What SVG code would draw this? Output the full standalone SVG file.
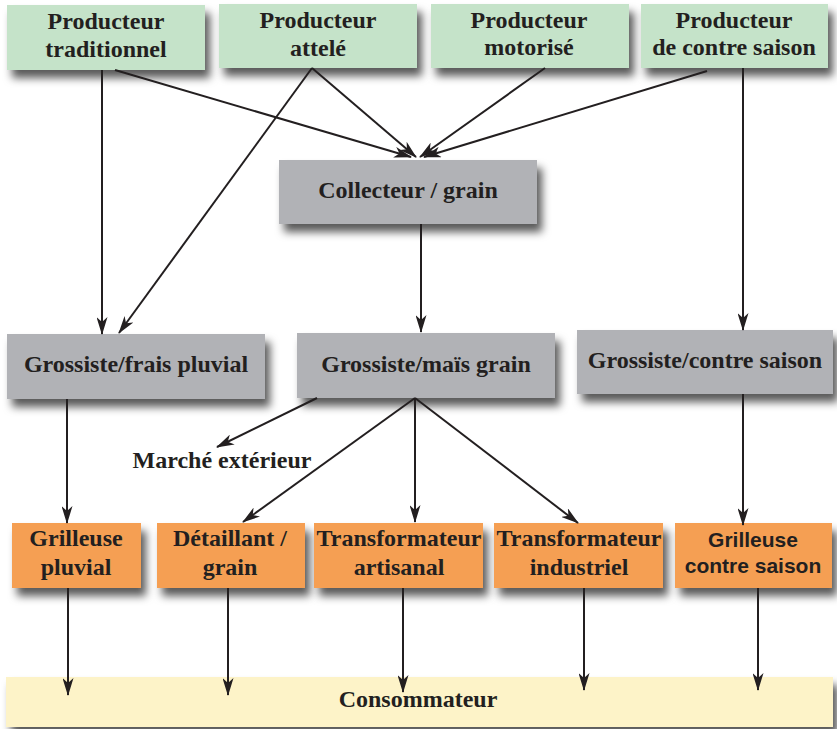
<svg xmlns="http://www.w3.org/2000/svg" width="837" height="729" viewBox="0 0 837 729">
<defs>
<filter id="sh" x="-10%" y="-20%" width="125%" height="160%">
<feDropShadow dx="5" dy="8" stdDeviation="4.5" flood-color="#000" flood-opacity="0.65"/>
</filter>
<marker id="ah" viewBox="0 0 18 11" markerWidth="18" markerHeight="11" refX="17" refY="5.5" orient="auto" markerUnits="userSpaceOnUse">
<path d="M0,0 L18,5.5 L0,11 L5,5.5 Z" fill="#231f20"/>
</marker>
<style>
.g{fill:#c5e3c9;filter:url(#sh)}
.gr{fill:#b1b2b6;filter:url(#sh)}
.o{fill:#f59f52;filter:url(#sh)}
.y{fill:#fdf3c8;filter:url(#sh)}
text{font-family:"Liberation Serif","Times New Roman",serif;font-weight:bold;font-size:24px;fill:#231f20;text-anchor:middle}
text.s{font-family:"Liberation Sans",Arial,sans-serif;font-size:21px}
#edges line{stroke:#231f20;stroke-width:2;marker-end:url(#ah)}
</style>
</defs>
<rect width="837" height="729" fill="#fff"/>
<g id="consommateur"><rect class="y" x="6" y="677" width="827" height="50"/><text x="418" y="707">Consommateur</text></g>
<g id="p_trad"><rect class="g" x="7" y="5" width="198" height="65"/><text x="106" y="29">Producteur</text><text x="106" y="57">traditionnel</text></g>
<g id="p_attele"><rect class="g" x="219" y="4" width="198" height="64"/><text x="318" y="28">Producteur</text><text x="318" y="56">attelé</text></g>
<g id="p_moto"><rect class="g" x="431" y="4" width="198" height="64"/><text x="529" y="28">Producteur</text><text x="529" y="55">motorisé</text></g>
<g id="p_contre"><rect class="g" x="641" y="4" width="187" height="64"/><text x="734" y="28">Producteur</text><text x="734" y="55">de contre saison</text></g>
<g id="collecteur"><rect class="gr" x="279" y="160" width="258" height="64"/><text x="408" y="198">Collecteur / grain</text></g>
<g id="g_frais"><rect class="gr" x="7" y="334" width="258" height="65"/><text x="136" y="372">Grossiste/frais pluvial</text></g>
<g id="g_mais"><rect class="gr" x="297" y="333" width="258" height="65"/><text x="426" y="372">Grossiste/maïs grain</text></g>
<g id="g_contre"><rect class="gr" x="577" y="330" width="256" height="64"/><text x="705" y="368">Grossiste/contre saison</text></g>
<g id="marche"><text x="222" y="468">Marché extérieur</text></g>
<g id="gr_pluvial"><rect class="o" x="12" y="523" width="129" height="65"/><text x="76" y="546">Grilleuse</text><text x="76" y="575">pluvial</text></g>
<g id="detaillant"><rect class="o" x="157" y="523" width="148" height="65"/><text x="230" y="546">Détaillant /</text><text x="230" y="575">grain</text></g>
<g id="tr_artisanal"><rect class="o" x="314" y="523" width="169" height="65"/><text x="399" y="546">Transformateur</text><text x="399" y="575">artisanal</text></g>
<g id="tr_industriel"><rect class="o" x="494" y="523" width="169" height="65"/><text x="579" y="546">Transformateur</text><text x="579" y="575">industriel</text></g>
<g id="gr_contre"><rect class="o" x="675" y="523" width="157" height="65"/><text class="s" x="753" y="547">Grilleuse</text><text class="s" x="753" y="573">contre saison</text></g>
<g id="edges">
<line x1="102" y1="70" x2="102" y2="334"/>
<line x1="115" y1="70" x2="411" y2="157"/>
<line x1="312" y1="68" x2="119" y2="333"/>
<line x1="312" y1="68" x2="416" y2="157"/>
<line x1="545" y1="68" x2="420" y2="157"/>
<line x1="707" y1="71" x2="424" y2="157"/>
<line x1="743" y1="68" x2="743" y2="330"/>
<line x1="421" y1="224" x2="421" y2="332"/>
<line x1="317" y1="398" x2="217" y2="447"/>
<line x1="415" y1="398" x2="243" y2="522"/>
<line x1="415" y1="398" x2="415" y2="522"/>
<line x1="415" y1="398" x2="578" y2="523"/>
<line x1="67" y1="399" x2="67" y2="523"/>
<line x1="743" y1="394" x2="743" y2="525"/>
<line x1="68" y1="588" x2="68" y2="695"/>
<line x1="228" y1="588" x2="228" y2="695"/>
<line x1="403" y1="588" x2="403" y2="692"/>
<line x1="584" y1="588" x2="584" y2="690"/>
<line x1="758" y1="588" x2="758" y2="690"/>
</g>
</svg>
